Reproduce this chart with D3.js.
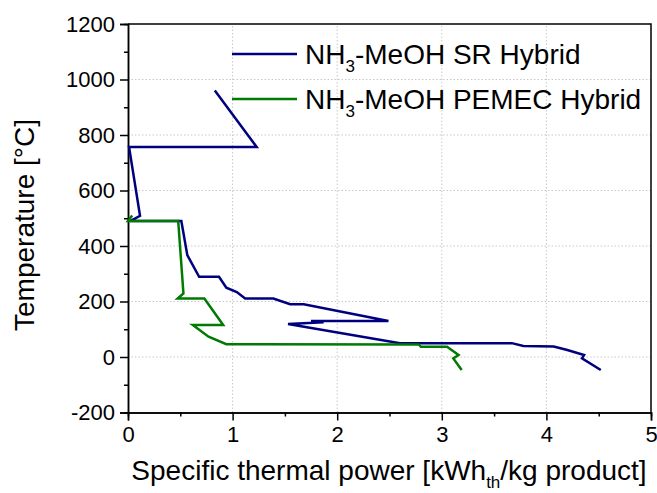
<!DOCTYPE html>
<html>
<head>
<meta charset="utf-8">
<script src="https://cdn.jsdelivr.net/npm/d3@7"></script>
<style>
	body { margin: 0; background: #fff; }
	text { font-family: "Liberation Sans", Arial, sans-serif; fill: #000; }
</style>
</head>
<body>
<svg id="chart" width="657" height="493"></svg>
<script>
// data
var srPower = [0.83, 1.23, 0.01, 0.115, 0.02, 0.51, 0.567, 0.68, 0.87, 0.94, 1.04, 1.12, 1.39, 1.55, 1.68, 2.49, 1.75, 1.87, 1.53, 2.6, 3.67, 3.78, 4.07, 4.2, 4.36, 4.34, 4.52];
var srTemp  = [960, 757, 757, 509, 490, 490, 367, 289, 289, 250, 234, 211, 211, 190, 190, 130, 130, 125, 119, 50, 50, 40, 38, 25, 7, -5, -47];
var pemPower = [0.04, 0.0, 0.48, 0.53, 0.475, 0.73, 0.91, 0.62, 0.77, 0.94, 2.78, 2.8, 3.05, 3.16, 3.11, 3.19];
var pemTemp  = [510, 490, 490, 229, 211, 211, 115, 115, 73, 46, 45, 37, 37, 7, -5, -47];
var xTicks = [0, 1, 2, 3, 4, 5];
var yTicks = [-200, 0, 200, 400, 600, 800, 1000, 1200];

var svg = d3.select('#chart');
var x = d3.scaleLinear().domain([0, 5]).range([128, 651]);
var y = d3.scaleLinear().domain([-200, 1200]).range([412.5, 24]);

//grid lines
var g_grid = svg.append('g')
	.style('stroke', '#c8c8c8')
	.style('stroke-width', '1px')
	.style('stroke-dasharray', '1.5,2');
g_grid.selectAll('line.gx').data(xTicks.slice(1, -1)).enter().append('line')
	.attr('x1', d => x(d)).attr('x2', d => x(d))
	.attr('y1', y(-200)).attr('y2', y(1200));
g_grid.selectAll('line.gy').data(yTicks.slice(1, -1)).enter().append('line')
	.attr('y1', d => y(d)).attr('y2', d => y(d))
	.attr('x1', x(0)).attr('x2', x(5));

//axes
var fmt = d => String(d);
var xAxis = d3.axisBottom(x).tickValues(xTicks).tickSize(8).tickPadding(6).tickFormat(fmt);
var xMinor = d3.axisBottom(x).tickValues(d3.range(0.5, 5, 1)).tickSize(4).tickFormat('');
var yAxis = d3.axisLeft(y).tickValues(yTicks).tickSize(8).tickPadding(5).tickFormat(fmt);
var yMinor = d3.axisLeft(y).tickValues(d3.range(-100, 1200, 200)).tickSize(4).tickFormat('');

svg.append('g').attr('transform', 'translate(0,' + y(-200) + ')').call(xAxis);
svg.append('g').attr('transform', 'translate(0,' + y(-200) + ')').call(xMinor);
svg.append('g').attr('transform', 'translate(' + x(0) + ',0)').call(yAxis);
svg.append('g').attr('transform', 'translate(' + x(0) + ',0)').call(yMinor);

svg.selectAll('.tick text').style('font-size', '22px').style('font-family', '"Liberation Sans", Arial, sans-serif');
svg.selectAll('.domain, .tick line').style('stroke', '#000').style('stroke-width', '1.5px');

//frame top/right
svg.append('path')
	.attr('d', 'M' + x(0) + ',' + y(1200) + 'H' + x(5) + 'V' + y(-200))
	.style('fill', 'none').style('stroke', '#000').style('stroke-width', '1.5px');

//series (green drawn over blue)
var line = d3.line().x(d => x(d[0])).y(d => y(d[1]));
var srData = srPower.map((p, i) => [p, srTemp[i]]);
var pemData = pemPower.map((p, i) => [p, pemTemp[i]]);

svg.append('path').attr('d', line(srData))
	.style('fill', 'none').style('stroke', '#00007f').style('stroke-width', '2.5px');
svg.append('path').attr('d', line(pemData))
	.style('fill', 'none').style('stroke', '#007a00').style('stroke-width', '2.5px');

//legend
var legend = [
	{name: 'SR Hybrid', color: '#00007f', ly: 54},
	{name: 'PEMEC Hybrid', color: '#007a00', ly: 99}
];
var g_leg = svg.append('g');
legend.forEach(function(l) {
	g_leg.append('line')
		.attr('x1', 232).attr('x2', 297).attr('y1', l.ly).attr('y2', l.ly)
		.style('stroke', l.color).style('stroke-width', '2.5px');
	var t = g_leg.append('text').attr('x', 305).attr('y', l.ly + 10).style('font-size', '28px');
	t.append('tspan').text('NH');
	t.append('tspan').text('3').style('font-size', '17px').attr('dy', 8);
	t.append('tspan').text('-MeOH ' + l.name).attr('dy', -8);
});

//axis titles
var xt = svg.append('text')
	.attr('x', 389).attr('y', 480)
	.attr('text-anchor', 'middle')
	.style('font-size', '28px');
xt.append('tspan').text('Specific thermal power [kWh');
xt.append('tspan').text('th').style('font-size', '17px').attr('dy', 8);
xt.append('tspan').text('/kg product]').attr('dy', -8);

svg.append('text')
	.attr('transform', 'translate(34,225) rotate(-90)')
	.attr('text-anchor', 'middle')
	.style('font-size', '28px')
	.text('Temperature [°C]');
</script>
</body>
</html>
